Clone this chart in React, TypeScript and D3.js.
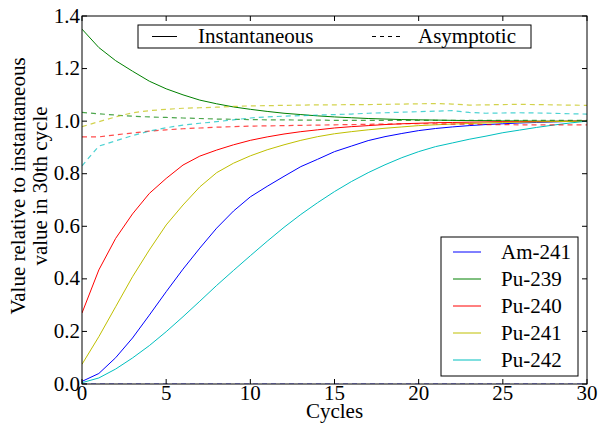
import React from 'react';
import * as d3 from 'd3';

const W = 600;
const H = 424;
const margin = { top: 16, right: 13, bottom: 40, left: 82 };

const cycles = d3.range(0, 31);

const isotopes = ['Am-241', 'Pu-239', 'Pu-240', 'Pu-241', 'Pu-242'];
const colors = ['#0000ff', '#008000', '#ff0000', '#bfbf00', '#00bfbf'];

// instantaneous value relative to cycle 30
const am241 = [0.01, 0.04, 0.1, 0.175, 0.262, 0.351, 0.437, 0.517, 0.593, 0.658, 0.712, 0.752, 0.79, 0.827, 0.855, 0.884, 0.905, 0.926, 0.941, 0.953, 0.964, 0.972, 0.978, 0.983, 0.987, 0.99, 0.993, 0.995, 0.997, 0.999, 1.0];
const pu239 = [1.35, 1.28, 1.23, 1.19, 1.152, 1.123, 1.1, 1.08, 1.066, 1.054, 1.045, 1.037, 1.03, 1.025, 1.02, 1.016, 1.013, 1.01, 1.008, 1.006, 1.005, 1.004, 1.003, 1.002, 1.002, 1.001, 1.001, 1.0, 1.0, 1.0, 1.0];
const pu240 = [0.27, 0.434, 0.554, 0.647, 0.725, 0.782, 0.833, 0.867, 0.89, 0.91, 0.927, 0.94, 0.951, 0.96, 0.967, 0.974, 0.979, 0.983, 0.987, 0.99, 0.992, 0.994, 0.995, 0.996, 0.997, 0.998, 0.998, 0.999, 0.999, 1.0, 1.0];
const pu241 = [0.075, 0.18, 0.294, 0.408, 0.51, 0.605, 0.681, 0.75, 0.804, 0.84, 0.868, 0.891, 0.91, 0.927, 0.941, 0.952, 0.96, 0.967, 0.973, 0.978, 0.983, 0.986, 0.989, 0.991, 0.993, 0.995, 0.996, 0.997, 0.998, 0.999, 1.0];
const pu242 = [0.005, 0.023, 0.057, 0.099, 0.146, 0.199, 0.256, 0.315, 0.375, 0.432, 0.488, 0.543, 0.596, 0.645, 0.69, 0.732, 0.77, 0.804, 0.834, 0.861, 0.884, 0.903, 0.917, 0.931, 0.943, 0.956, 0.966, 0.976, 0.985, 0.993, 1.0];

// asymptotic value relative to instantaneous value in cycle 30
const am241Asym = [0, 0, 0, 0, 0, 0, 0, 0, 0, 0, 0, 0, 0, 0, 0, 0, 0, 0, 0, 0, 0, 0, 0, 0, 0, 0, 0, 0, 0, 0, 0];
const pu239Asym = [1.033, 1.028, 1.023, 1.019, 1.016, 1.014, 1.012, 1.01, 1.008, 1.007, 1.006, 1.005, 1.005, 1.004, 1.004, 1.003, 1.003, 1.003, 1.003, 1.003, 1.003, 1.003, 1.003, 1.003, 1.003, 1.003, 1.003, 1.003, 1.003, 1.003, 1.003];
const pu240Asym = [0.94, 0.94, 0.948, 0.955, 0.962, 0.967, 0.971, 0.974, 0.977, 0.979, 0.981, 0.982, 0.983, 0.984, 0.985, 0.986, 0.987, 0.988, 0.989, 0.99, 0.99, 0.99, 0.989, 0.988, 0.987, 0.987, 0.986, 0.986, 0.986, 0.986, 0.986];
const pu241Asym = [0.979, 0.998, 1.016, 1.032, 1.04, 1.045, 1.049, 1.051, 1.053, 1.056, 1.058, 1.059, 1.06, 1.061, 1.062, 1.062, 1.063, 1.063, 1.064, 1.065, 1.066, 1.067, 1.065, 1.061, 1.062, 1.063, 1.064, 1.063, 1.062, 1.061, 1.06];
const pu242Asym = [0.83, 0.905, 0.925, 0.945, 0.962, 0.975, 0.985, 0.992, 0.998, 1.005, 1.012, 1.016, 1.019, 1.021, 1.023, 1.025, 1.027, 1.03, 1.032, 1.034, 1.036, 1.038, 1.04, 1.033, 1.03, 1.031, 1.032, 1.031, 1.03, 1.028, 1.027];

const instantaneous = [am241, pu239, pu240, pu241, pu242];
const asymptotic = [am241Asym, pu239Asym, pu240Asym, pu241Asym, pu242Asym];

const xTicks = [0, 5, 10, 15, 20, 25, 30];
const yTicks = [0, 0.2, 0.4, 0.6, 0.8, 1.0, 1.2, 1.4];

const font = "'Liberation Serif', serif";
const fs = 21;

export default function App() {
  const x = d3.scaleLinear().domain([0, 30]).range([margin.left, W - margin.right]);
  const y = d3.scaleLinear().domain([0, 1.4]).range([H - margin.bottom, margin.top]);
  const line = d3.line<number>().x((_, i) => x(cycles[i])).y(d => y(d));

  const x0 = x(0), x1 = x(30), y0 = y(0), y1 = y(1.4);
  const tick = 5;

  return (
    <svg width={W} height={H} style={{ position: 'absolute', left: 0, top: 0, background: '#fff', fontFamily: font }}>
      <defs>
        <clipPath id="plot">
          <rect x={x0} y={y1} width={x1 - x0} height={y0 - y1} />
        </clipPath>
      </defs>

      <g clipPath="url(#plot)">
        {instantaneous.map((s, i) => (
          <path key={'i' + i} d={line(s)!} fill="none" stroke={colors[i]} strokeWidth={1} />
        ))}
        {asymptotic.map((s, i) => (
          <path key={'a' + i} d={line(s)!} fill="none" stroke={colors[i]} strokeWidth={1.2} strokeDasharray="5 4" opacity={0.7} />
        ))}
      </g>

      {/* frame */}
      <rect x={x0} y={y1} width={x1 - x0} height={y0 - y1} fill="none" stroke="#000" strokeWidth={1} />

      {/* ticks */}
      {xTicks.map(t => (
        <g key={'x' + t}>
          <line x1={x(t)} x2={x(t)} y1={y0} y2={y0 - tick} stroke="#000" />
          <line x1={x(t)} x2={x(t)} y1={y1} y2={y1 + tick} stroke="#000" />
          <text x={x(t)} y={y0 + 16} textAnchor="middle" fontSize={fs}>{t}</text>
        </g>
      ))}
      {yTicks.map(t => (
        <g key={'y' + t}>
          <line x1={x0} x2={x0 + tick} y1={y(t)} y2={y(t)} stroke="#000" />
          <line x1={x1} x2={x1 - tick} y1={y(t)} y2={y(t)} stroke="#000" />
          <text x={x0 - 2} y={y(t) + 6.5} textAnchor="end" fontSize={fs}>{t.toFixed(1)}</text>
        </g>
      ))}

      <text x={(x0 + x1) / 2} y={418} textAnchor="middle" fontSize={fs}>Cycles</text>
      <g transform={`translate(25, 186) rotate(-90)`}>
        <text textAnchor="middle" fontSize={fs}>Value relative to instantaneous</text>
        <text y={22} textAnchor="middle" fontSize={fs}>value in 30th cycle</text>
      </g>

      {/* style legend */}
      <g>
        <rect x={138} y={25} width={393} height={23} fill="#fff" stroke="#000" strokeWidth={1} />
        <line x1={152} x2={177} y1={36.5} y2={36.5} stroke="#000" />
        <text x={198} y={43} fontSize={fs}>Instantaneous</text>
        <line x1={372} x2={400} y1={36.5} y2={36.5} stroke="#000" strokeDasharray="4 4" />
        <text x={418} y={43} fontSize={fs}>Asymptotic</text>
      </g>

      {/* isotope legend */}
      <g>
        <rect x={441} y={237} width={137} height={139} fill="#fff" stroke="#000" strokeWidth={1} />
        {isotopes.map((name, i) => (
          <g key={name} transform={`translate(0, ${252 + i * 27})`}>
            <line x1={453} x2={481} y1={0} y2={0} stroke={colors[i]} />
            <text x={501} y={7} fontSize={fs}>{name}</text>
          </g>
        ))}
      </g>
    </svg>
  );
}
